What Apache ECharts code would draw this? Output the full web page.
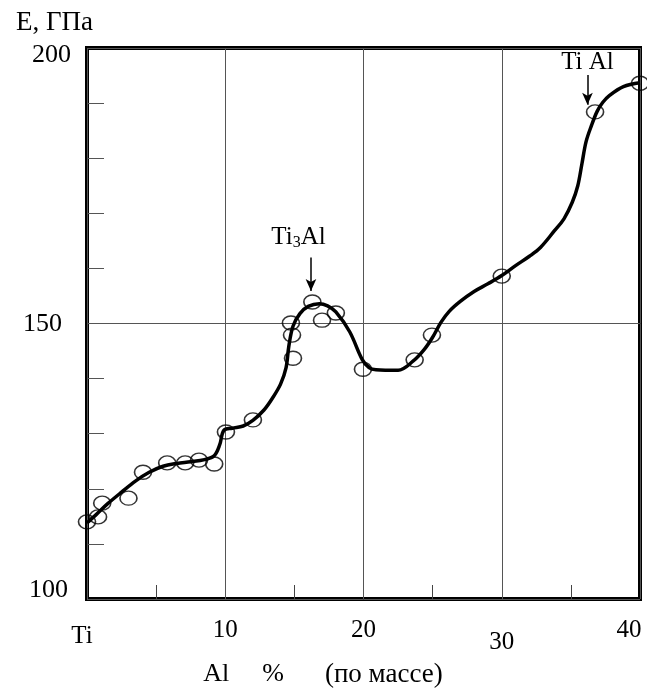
<!DOCTYPE html>
<html>
<head>
<meta charset="utf-8">
<script src="https://cdn.jsdelivr.net/npm/echarts@6/dist/echarts.min.js"></script>
<style>
  html, body { margin: 0; padding: 0; background: #fff; }
  #chart { width: 647px; height: 693px; }
</style>
</head>
<body>
<div id="chart"></div>
<script>
// ось X: Al, % (по массе)
const xTickValues = [0, 10, 20, 30, 40]
const xTickLabels = ['Ti', '10', '20', '30', '40']
const yTickValues = [100, 150, 200]

// экспериментальные точки
const measX = [0, 0.8, 1.1, 3.0, 4.05, 5.8, 7.1, 8.1, 9.2, 10.05, 12.0, 14.75, 14.83, 14.9, 16.3, 17.0, 18.0, 19.96, 23.7, 24.95, 30.0, 36.75, 40.0]
const measY = [114.0, 114.9, 117.4, 118.3, 123.0, 124.7, 124.7, 125.2, 124.5, 130.3, 132.5, 150.1, 147.9, 143.7, 153.9, 150.6, 151.9, 141.7, 143.4, 147.9, 158.6, 188.4, 193.6]

// сглаженная кривая
const curveX = [0, 0.7, 1.5, 2.5, 3.5, 4.5, 5.5, 6.5, 7.5, 8.5, 9.2, 9.6, 9.9, 10.5, 11.3, 12, 12.8, 13.4, 14, 14.4, 14.6, 14.9, 15.4, 16, 16.8, 17.4, 18, 19, 19.9, 20.4, 20.9, 22.5, 23.6, 24.4, 25, 25.6, 26.2, 27, 28, 29, 30, 31, 32, 32.8, 33.8, 34.5, 35.1, 35.5, 35.8, 36.1, 36.5, 36.9, 37.3, 37.8, 38.8, 40]
const curveY = [113.8, 115.4, 117.3, 119.4, 121.4, 123, 124.1, 124.6, 124.9, 125.3, 126, 128, 130.6, 131, 131.4, 132.4, 134.3, 136.4, 139, 142, 145.9, 149.5, 151.8, 153.1, 153.6, 153.2, 152.1, 148.5, 143.5, 142, 141.6, 141.5, 143.2, 145.3, 147.5, 150.2, 152.2, 154, 155.8, 157.2, 158.7, 160.5, 162.2, 163.8, 166.8, 169, 172, 175, 179, 183, 186, 188.5, 190.1, 191.4, 193, 193.7]

// фазы
const phaseNames = ['Ti3Al', 'TiAl']
const phaseLabelX = [15.3, 36.2]
const phaseLabelY = [165.6, 197.3]
const phaseArrowX = [16.2, 36.2]
const phaseArrowTop = [162, 195.1]
const phaseArrowBottom = [155.9, 189.7]

const font = 'Liberation Serif'

const chart = echarts.init(document.getElementById('chart'))

const option = {
  animation: false,
  title: {
    text: 'E, ГПа',
    left: 11,
    top: 4,
    textStyle: { fontFamily: font, fontSize: 27, fontWeight: 'normal', color: '#000' }
  },
  grid: {
    left: 87, top: 48, width: 553, height: 551,
    outerBoundsMode: 'none',
    show: true, borderWidth: 4, borderColor: '#000'
  },
  xAxis: {
    type: 'value',
    min: 0, max: 40, interval: 10,
    axisLine: { show: false },
    axisTick: { show: false, inside: true },
    minorTick: { show: true, splitNumber: 2, length: 14, lineStyle: { color: '#444', width: 1 } },
    splitLine: { show: true, lineStyle: { color: '#555', width: 1 } },
    axisLabel: {
      margin: 19,
      formatter: v => {
        const i = xTickValues.indexOf(v)
        const t = i >= 0 ? xTickLabels[i] : ''
        if (v === 30) return '{d|' + t + '}'
        if (v === 0) return '{l|' + t + '}'
        if (v === 40) return '{r|' + t + '}'
        return '{n|' + t + '}'
      },
      rich: {
        n: { fontFamily: font, fontSize: 25, color: '#000' },
        l: { fontFamily: font, fontSize: 25, color: '#000', padding: [6, 10, 0, 0] },
        r: { fontFamily: font, fontSize: 25, color: '#000', padding: [0, 22, 0, 0] },
        d: { fontFamily: font, fontSize: 25, color: '#000', padding: [12, 0, 0, 0] }
      }
    },
    name: '{a|Al}{b|%}{c|(по массе)}',
    nameLocation: 'middle',
    nameGap: 62,
    nameTextStyle: {
      padding: [0, 81, 0, 0],
      rich: {
        a: { fontFamily: font, fontSize: 26, color: '#000', padding: [0, 33, 0, 0] },
        b: { fontFamily: font, fontSize: 26, color: '#000', padding: [0, 41, 0, 0] },
        c: { fontFamily: font, fontSize: 27, color: '#000' }
      }
    }
  },
  yAxis: {
    type: 'value',
    min: 100, max: 200, interval: 50,
    axisLine: { show: false },
    axisTick: { show: false, inside: true },
    minorTick: { show: true, splitNumber: 5, length: 17, lineStyle: { color: '#555', width: 1 } },
    splitLine: { show: true, lineStyle: { color: '#555', width: 1 } },
    axisLabel: {
      margin: 16,
      formatter: v => {
        if (yTickValues.indexOf(v) < 0) return ''
        if (v === 200) return '{t|' + v + '}'
        if (v === 100) return '{b|' + v + '}'
        return '{m|' + v + '}'
      },
      rich: {
        t: { fontFamily: font, fontSize: 26, color: '#000', padding: [14, 0, 0, 0] },
        m: { fontFamily: font, fontSize: 26, color: '#000', padding: [2, 9, 0, 0] },
        b: { fontFamily: font, fontSize: 26, color: '#000', padding: [0, 3, 18, 0] }
      }
    }
  },
  series: [
    {
      type: 'line',
      data: curveX.map((x, i) => [x, curveY[i]]),
      smooth: 0.35,
      symbol: 'none',
      lineStyle: { color: '#000', width: 3.5 },
      z: 3,
      markLine: {
        silent: true,
        symbol: ['none', 'arrow'],
        symbolSize: [8, 12],
        label: { show: false },
        lineStyle: { color: '#000', width: 1.5, type: 'solid' },
        data: phaseArrowX.map((x, i) => [
          { coord: [x, phaseArrowTop[i]] },
          { coord: [x, phaseArrowBottom[i]] }
        ])
      },
      markPoint: {
        silent: true,
        symbol: 'circle',
        symbolSize: 1,
        itemStyle: { color: 'transparent' },
        label: {
          show: true,
          position: 'inside',
          formatter: p => p.name === 'Ti3Al' ? '{a|Ti}{s|3}{a|Al}' : '{a|Ti Al}',
          rich: {
            a: { fontFamily: font, fontSize: 25, color: '#000' },
            s: { fontFamily: font, fontSize: 16, color: '#000', padding: [10, 0, 0, 0] }
          }
        },
        data: phaseNames.map((n, i) => ({ name: n, coord: [phaseLabelX[i], phaseLabelY[i]] }))
      }
    },
    {
      type: 'scatter',
      data: measX.map((x, i) => [x, measY[i]]),
      symbol: 'circle',
      symbolSize: [17, 14],
      clip: false,
      itemStyle: { color: 'transparent', borderColor: '#000', borderWidth: 1.5 },
      z: 4
    }
  ]
}

chart.setOption(option)
window.addEventListener('resize', () => chart.resize())
</script>
</body>
</html>
